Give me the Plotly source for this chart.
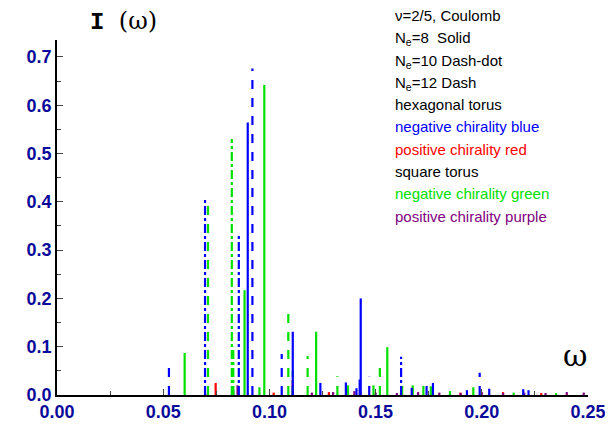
import plotly.graph_objects as go

# spectral peaks: omega positions and intensities, per (colour, line style)
blue_solid_w = [0.0898, 0.111, 0.124, 0.136, 0.141, 0.1425, 0.143, 0.167, 0.177, 0.193, 0.2035, 0.2195, 0.222]
blue_solid_i = [0.564, 0.131, 0.025, 0.026, 0.014, 0.032, 0.2, 0.015, 0.025, 0.01, 0.013, 0.012, 0.01]
blue_dashdot_w = [0.0697, 0.0856, 0.162]
blue_dashdot_i = [0.404, 0.335, 0.079]
blue_dash_w = [0.0527, 0.092, 0.1058, 0.147, 0.174, 0.199]
blue_dash_i = [0.067, 0.676, 0.085, 0.038, 0.036, 0.046]
green_solid_w = [0.0601, 0.0883, 0.0976, 0.122, 0.137, 0.149, 0.1555, 0.1675, 0.176, 0.185, 0.196, 0.215, 0.235]
green_solid_i = [0.087, 0.217, 0.642, 0.131, 0.02, 0.02, 0.099, 0.02, 0.018, 0.008, 0.016, 0.005, 0.004]
green_dashdot_w = [0.0823, 0.083, 0.111]
green_dashdot_i = [0.53, 0.1, 0.05]
green_dash_w = [0.0711, 0.0953, 0.1089, 0.118, 0.132, 0.152, 0.1625, 0.1725]
green_dash_i = [0.404, 0.016, 0.17, 0.081, 0.039, 0.06, 0.035, 0.032]
red_w = [0.0747, 0.102, 0.111, 0.128, 0.19, 0.21, 0.228]
red_i = [0.025, 0.005, 0.03, 0.006, 0.005, 0.006, 0.004]
purple_w = [0.071, 0.083, 0.085, 0.111, 0.12, 0.13, 0.14, 0.15, 0.16, 0.17, 0.18, 0.19, 0.2, 0.21, 0.22, 0.23, 0.24, 0.248]
purple_i = [0.003, 0.01, 0.02, 0.02, 0.005, 0.006, 0.008, 0.005, 0.004, 0.006, 0.005, 0.004, 0.006, 0.004, 0.005, 0.004, 0.006, 0.005]

series = [
    (red_w, red_i, "red", "solid"),
    (purple_w, purple_i, "purple", "solid"),
    (green_solid_w, green_solid_i, "#00e000", "solid"),
    (green_dashdot_w, green_dashdot_i, "#00e000", "dashdot"),
    (green_dash_w, green_dash_i, "#00e000", "dash"),
    (blue_solid_w, blue_solid_i, "blue", "solid"),
    (blue_dashdot_w, blue_dashdot_i, "blue", "dashdot"),
    (blue_dash_w, blue_dash_i, "blue", "dash"),
]

fig = go.Figure()
for ws, vals, color, dash in series:
    xs, ys = [], []
    for w, v in zip(ws, vals):
        xs += [w, w, None]
        ys += [0, v, None]
    fig.add_trace(go.Scatter(x=xs, y=ys, mode="lines",
                             line=dict(color=color, dash=dash, width=2.2),
                             showlegend=False, hoverinfo="skip"))

tickfont = dict(family="Liberation Sans, Arial", size=18, color="#0a0a9a", weight="bold")
fig.update_xaxes(range=[0, 0.25], dtick=0.05, tickformat=".2f", showline=True,
                 linecolor="black", linewidth=1.5, ticks="inside", ticklen=6,
                 minor=dict(dtick=0.025, ticks="inside", ticklen=4),
                 showgrid=False, zeroline=False, tickfont=tickfont)
fig.update_yaxes(range=[0, 0.735], dtick=0.1, tickformat=".1f", showline=True,
                 linecolor="black", linewidth=1.5, ticks="inside", ticklen=6,
                 minor=dict(dtick=0.05, ticks="inside", ticklen=4),
                 showgrid=False, zeroline=False, tickfont=tickfont)

# page body adds an 8px offset, so layout coordinates are shifted by 8
L, T, W, H = 49, 32, 531, 355

legend_lines = [
    ("ν=2/5, Coulomb", "black"),
    ("N<sub>e</sub>=8  Solid", "black"),
    ("N<sub>e</sub>=10 Dash-dot", "black"),
    ("N<sub>e</sub>=12 Dash", "black"),
    ("hexagonal torus", "black"),
    ("negative chirality blue", "blue"),
    ("positive chirality red", "red"),
    ("square torus", "black"),
    ("negative chirality green", "#00e000"),
    ("positive chirality purple", "purple"),
]
for k, (txt, col) in enumerate(legend_lines):
    fig.add_annotation(x=(385 - L) / W, y=1 - (-3 + k * 22.3 - T) / H,
                       xref="x domain", yref="y domain", text=txt,
                       showarrow=False, xanchor="left", yanchor="top",
                       font=dict(family="Liberation Sans, Arial", size=15, color=col))

fig.add_annotation(x=(80 - L) / W, y=1 - (13 - T) / H, xref="x domain", yref="y domain",
                   text="<b>I</b> <span style='font-family:DejaVu Serif'>(ω)</span>",
                   showarrow=False, xanchor="left", yanchor="middle",
                   font=dict(family="Courier New, Liberation Mono", size=24, color="black"))
fig.add_annotation(x=(567 - L) / W, y=1 - (347 - T) / H, xref="x domain", yref="y domain",
                   text="ω", showarrow=False, xanchor="center", yanchor="middle",
                   font=dict(family="DejaVu Serif", size=30, color="black"))

fig.update_layout(width=613, height=435, margin=dict(l=L, r=613 - L - W, t=T, b=435 - T - H),
                  plot_bgcolor="white", paper_bgcolor="white")
fig.write_html("out.html")
